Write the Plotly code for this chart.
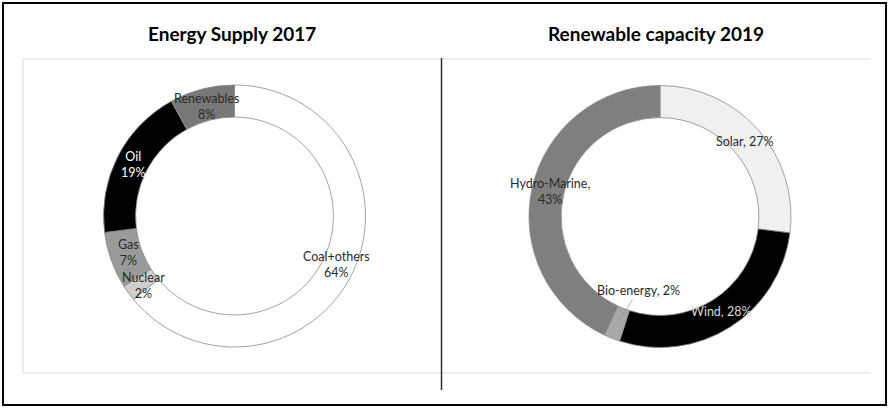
import numpy as np
import plotly.graph_objects as go

W, H = 889, 408

# ---- data ----
supply_labels = ["Coal+others", "Nuclear", "Gas", "Oil", "Renewables"]
supply_values = [64, 2, 7, 19, 8]
supply_colors = ["#ffffff", "#cfcfcf", "#9a9a9a", "#000000", "#787878"]
supply_text_colors = ["#2a2a2a", "#2a2a2a", "#2a2a2a", "#ffffff", "#2a2a2a"]

renew_labels = ["Solar", "Wind", "Bio-energy", "Hydro-Marine"]
renew_values = [27, 28, 2, 43]
renew_colors = ["#f0f0f0", "#000000", "#a8a8a8", "#7f7f7f"]
renew_text_colors = ["#2a2a2a", "#d8d8d8", "#2a2a2a", "#2a2a2a"]

titles = ["Energy Supply 2017", "Renewable capacity 2019"]

# ---- layout geometry (pixels) ----
centers = [(234.5, 216.0), (660.0, 216.5)]
R_OUT = 131.0
HOLE = 0.755
R_LAB = 113.0
FONT = "Lato, 'Liberation Sans', sans-serif"
LINE_H = 1.25  # line spacing tweak


def dom(cx, cy, r):
    return dict(x=[(cx - r) / W, (cx + r) / W], y=[1 - (cy + r) / H, 1 - (cy - r) / H])


fig = go.Figure()
fig.add_trace(go.Pie(
    labels=supply_labels, values=supply_values, sort=False, direction="clockwise",
    rotation=0, hole=HOLE, textinfo="none", hoverinfo="label+percent",
    marker=dict(colors=supply_colors, line=dict(color="#8a8a8a", width=0.8)),
    domain=dom(*centers[0], R_OUT), showlegend=False))
fig.add_trace(go.Pie(
    labels=renew_labels, values=renew_values, sort=False, direction="clockwise",
    rotation=0, hole=HOLE, textinfo="none", hoverinfo="label+percent",
    marker=dict(colors=renew_colors, line=dict(color="#8a8a8a", width=0.8)),
    domain=dom(*centers[1], R_OUT), showlegend=False))


def mid_points(values, cx, cy, r):
    v = np.array(values, dtype=float)
    cum = np.cumsum(v) - v / 2
    ang = cum / v.sum() * 2 * np.pi
    return cx + r * np.sin(ang), cy - r * np.cos(ang)


annotations = []
# left donut labels: two lines
label_shift = {"Gas": 2, "Nuclear": -3}
xs, ys = mid_points(supply_values, *centers[0], R_LAB)
for lab, val, x, y, c in zip(supply_labels, supply_values, xs, ys, supply_text_colors):
    annotations.append(dict(x=x / W, y=1 - y / H, xref="paper", yref="paper",
                            text=f"{lab}<br>{val}%", showarrow=False,
                            yshift=label_shift.get(lab, 0),
                            font=dict(family=FONT, size=12.5, color=c),
                            xanchor="center", yanchor="middle"))

# right donut labels
xs, ys = mid_points(renew_values, *centers[1], R_LAB)
for lab, val, x, y, c in zip(renew_labels, renew_values, xs, ys, renew_text_colors):
    if lab == "Bio-energy":
        annotations.append(dict(x=x / W, y=1 - y / H, xref="paper", yref="paper",
                                text=f"{lab}, {val}%", showarrow=True, arrowhead=0,
                                arrowwidth=0.8, arrowcolor="#9a9a9a", ax=20, ay=-31,
                                font=dict(family=FONT, size=12.5, color=c),
                                xanchor="center", yanchor="middle"))
    elif lab == "Hydro-Marine":
        annotations.append(dict(x=x / W, y=1 - y / H, xref="paper", yref="paper",
                                text=f"{lab},<br>{val}%", showarrow=False,
                                font=dict(family=FONT, size=12.5, color=c),
                                xanchor="center", yanchor="middle"))
    else:
        annotations.append(dict(x=x / W, y=1 - y / H, xref="paper", yref="paper",
                                text=f"{lab}, {val}%", showarrow=False,
                                font=dict(family=FONT, size=12.5, color=c),
                                xanchor="center", yanchor="middle"))

# titles
for t, cx in zip(titles, [232, 656]):
    annotations.append(dict(x=cx / W, y=1 - 33 / H, xref="paper", yref="paper",
                            text=f"<b>{t}</b>", showarrow=False,
                            font=dict(family=FONT, size=19, color="#000000"),
                            xanchor="center", yanchor="middle"))


def px_line(x0, y0, x1, y1, color, width):
    return dict(type="line", xref="paper", yref="paper",
                x0=x0 / W, y0=1 - y0 / H, x1=x1 / W, y1=1 - y1 / H,
                line=dict(color=color, width=width), layer="below")


shapes = [
    # outer frame
    dict(type="rect", xref="paper", yref="paper", x0=3 / W, y0=1 - 405 / H, x1=886 / W, y1=1 - 3 / H,
         line=dict(color="#000000", width=2), layer="above"),
    # left plot area
    px_line(23, 59, 441, 59, "#dedede", 1),
    px_line(23, 373, 441, 373, "#dedede", 1),
    px_line(23, 59, 23, 373, "#dedede", 1),
    # right plot area
    px_line(441, 59, 870, 59, "#dedede", 1),
    px_line(441, 373, 870, 373, "#dedede", 1),
    # divider
    px_line(441.5, 58, 441.5, 390, "#303030", 1.5),
]

fig.update_layout(width=W, height=H, margin=dict(l=0, r=0, t=0, b=0),
                  paper_bgcolor="#ffffff", plot_bgcolor="#ffffff",
                  annotations=annotations, shapes=shapes)

fig.write_html("out.html")
